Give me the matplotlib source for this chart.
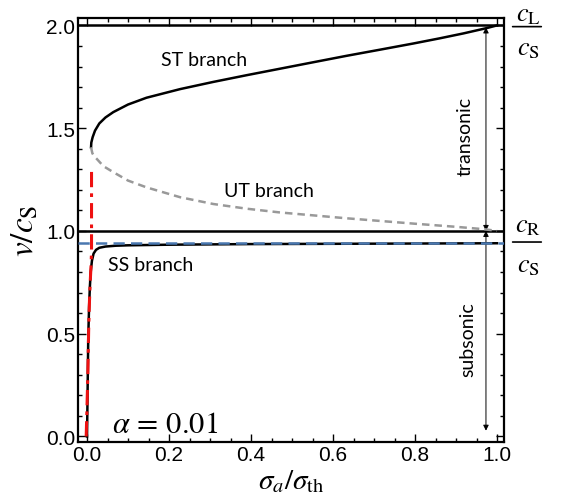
import matplotlib
matplotlib.use("Agg")
import matplotlib.pyplot as plt
from matplotlib.ticker import MultipleLocator

# ---- data ----
st_x = [0.0098, 0.0105, 0.0137, 0.0195, 0.030, 0.045, 0.064, 0.100, 0.145, 0.227,
        0.308, 0.390, 0.470, 0.550, 0.633, 0.715, 0.796, 0.860, 0.918, 0.975, 1.000]
st_v = [1.407, 1.430, 1.456, 1.488, 1.523, 1.552, 1.578, 1.615, 1.648, 1.690,
        1.725, 1.758, 1.789, 1.820, 1.852, 1.882, 1.912, 1.937, 1.961, 1.987, 2.000]

ut_x = [0.0098, 0.013, 0.018, 0.024, 0.040, 0.064, 0.100, 0.145, 0.227, 0.308,
        0.390, 0.470, 0.630, 0.800, 0.900, 0.970, 1.000]
ut_v = [1.407, 1.378, 1.362, 1.350, 1.315, 1.286, 1.245, 1.212, 1.164, 1.131,
        1.108, 1.090, 1.062, 1.035, 1.020, 1.008, 1.000]

ss_x = [0.0, 0.001, 0.002, 0.003, 0.005, 0.007, 0.009, 0.012, 0.016, 0.022,
        0.030, 0.045, 0.070, 0.100, 0.200, 0.400, 0.700, 1.000]
ss_v = [0.0, 0.15, 0.32, 0.48, 0.63, 0.73, 0.80, 0.855, 0.89, 0.908,
        0.918, 0.924, 0.928, 0.930, 0.933, 0.936, 0.938, 0.940]

red_x = [-0.002, 0.002, 0.004, 0.006, 0.008, 0.010, 0.011, 0.011]
red_v = [0.0, 0.30, 0.52, 0.66, 0.76, 0.84, 0.90, 1.29]

cL_over_cS = 2.0
cR_level = 1.0
blue_level = 0.943
arrow_x = 0.973
sub_bottom = 0.028

xticks = [0.0, 0.2, 0.4, 0.6, 0.8, 1.0]
xticklabels = ["0.0", "0.2", "0.4", "0.6", "0.8", "1.0"]
yticks = [0.0, 0.5, 1.0, 1.5, 2.0]
yticklabels = ["0.0", "0.5", "1.0", "1.5", "2.0"]

plt.rcParams['mathtext.fontset'] = 'stix'

fig = plt.figure(figsize=(5.61, 5.02), dpi=100)
ax = fig.add_axes([78/561, 1-443/502, (504-78)/561, (443-19)/502])

ax.axhline(cL_over_cS, color='black', lw=1.8, zorder=2)
ax.axhline(cR_level, color='black', lw=1.8, zorder=2)

ax.plot(ss_x, ss_v, color='black', lw=1.8, zorder=4)
ax.axhline(blue_level, color='#4a78b0', lw=1.8, ls=(0, (4.5, 2.5)), zorder=5)
ax.plot(st_x, st_v, color='black', lw=1.8, zorder=4)
ax.plot(ut_x, ut_v, color='#999999', lw=1.8, ls=(0, (3, 2)), zorder=4)
ax.plot(red_x, red_v, color='#ee1111', lw=2.2, ls=(0, (5, 2, 1.2, 2)), zorder=6)

ap = dict(arrowstyle='<|-|>', lw=0.7, color='black', mutation_scale=8,
          shrinkA=0, shrinkB=0)
ax.annotate('', xy=(arrow_x, 1.99), xytext=(arrow_x, cR_level), arrowprops=ap)
ax.annotate('', xy=(arrow_x, cR_level), xytext=(arrow_x, sub_bottom), arrowprops=ap)

tf = 'Lato'
ax.text(0.285, 1.834, 'ST branch', fontsize=14, family=tf, ha='center', va='center')
ax.text(0.443, 1.196, 'UT branch', fontsize=14, family=tf, ha='center', va='center')
ax.text(0.154, 0.835, 'SS branch', fontsize=14, family=tf, ha='center', va='center')
ax.text(0.922, 1.464, 'transonic', fontsize=14, family=tf, ha='center', va='center', rotation=90)
ax.text(0.93, 0.474, 'subsonic', fontsize=14, family=tf, ha='center', va='center', rotation=90)
ax.text(0.062, 0.022, r'$\alpha\,=\,0.01$', fontsize=22, ha='left', va='baseline')

# right-side fraction labels
fx = 1.076
for num, den, ybar, ynum, yden in [(r'$c_{\rm L}$', r'$c_{\rm S}$', 1.994, 2.06, 1.895),
                                    (r'$c_{\rm R}$', r'$c_{\rm S}$', 0.946, 1.034, 0.839)]:
    ax.text(fx, ynum, num, fontsize=19, ha='center', va='center', clip_on=False)
    ax.text(fx, yden, den, fontsize=19, ha='center', va='center', clip_on=False)
    ax.annotate('', xy=(1.108, ybar), xytext=(1.038, ybar), xycoords='data',
                arrowprops=dict(arrowstyle='-', lw=1.2, color='black', shrinkA=0, shrinkB=0),
                annotation_clip=False)

ax.set_xlim(-0.022, 1.017)
ax.set_ylim(-0.027, 2.036)
ax.set_xticks(xticks)
ax.set_xticklabels(xticklabels)
ax.set_yticks(yticks)
ax.set_yticklabels(yticklabels)
ax.xaxis.set_minor_locator(MultipleLocator(0.05))
ax.yaxis.set_minor_locator(MultipleLocator(0.1))
ax.tick_params(which='both', direction='in', top=True, right=True, width=1.0)
ax.tick_params(which='major', length=6)
ax.tick_params(which='minor', length=3)
ax.tick_params(axis='both', labelsize=15, pad=2)
for lab in ax.get_xticklabels() + ax.get_yticklabels():
    lab.set_family('Liberation Sans')
for s in ax.spines.values():
    s.set_linewidth(1.6)

ax.set_xlabel(r'$\sigma_a/\sigma_{\rm th}$', fontsize=21, labelpad=2)
ax.set_ylabel(r'$v/c_{\rm S}$', fontsize=24, labelpad=4)

fig.savefig('out.png', dpi=100)
